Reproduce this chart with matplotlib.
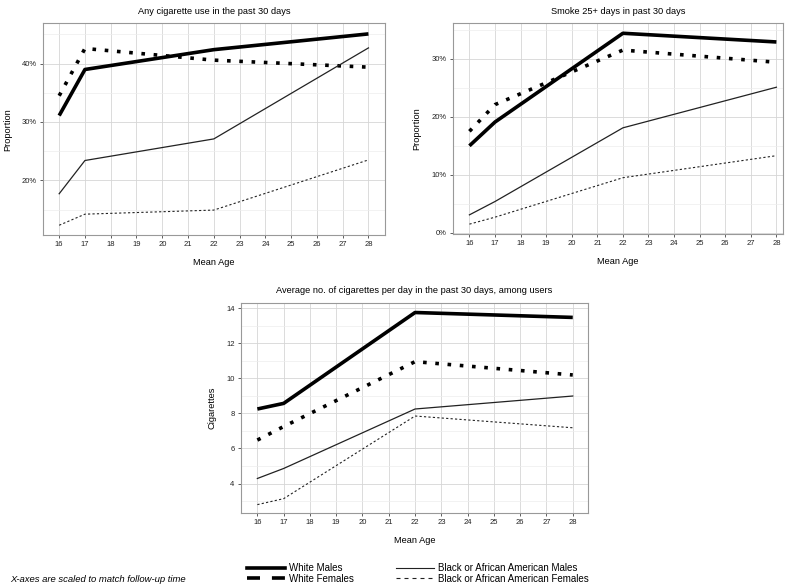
import numpy as np
import matplotlib
matplotlib.use("Agg")
import matplotlib.pyplot as plt
from matplotlib.lines import Line2D
from matplotlib.ticker import MultipleLocator, PercentFormatter

plt.rcParams['font.family'] = ['Liberation Sans', 'DejaVu Sans']

ages = [16, 17, 22, 28]

# Any cigarette use in the past 30 days (%)
any_wm = [31.1, 39.0, 42.4, 45.1]
any_wf = [34.5, 42.6, 40.6, 39.4]
any_bm = [17.7, 23.4, 27.1, 42.7]
any_bf = [12.3, 14.2, 14.9, 23.5]

# Smoke 25+ days in past 30 days (%)
d25_wm = [15.0, 19.1, 34.4, 32.9]
d25_wf = [17.5, 22.1, 31.5, 29.4]
d25_bm = [3.1, 5.4, 18.1, 25.1]
d25_bf = [1.5, 2.7, 9.5, 13.3]

# Average no. of cigarettes per day among users
cpd_wm = [8.25, 8.57, 13.75, 13.47]
cpd_wf = [6.48, 7.25, 10.95, 10.19]
cpd_bm = [4.29, 4.86, 8.25, 8.99]
cpd_bf = [2.80, 3.14, 7.85, 7.18]

labels = ["White Males", "White Females",
          "Black or African American Males", "Black or African American Females"]

styles = [
    dict(color='black', lw=2.6, ls='-', solid_capstyle='butt'),
    dict(color='black', lw=2.6, ls=(0, (1, 2.4)), dash_capstyle='butt'),
    dict(color='#222222', lw=0.9, ls='-'),
    dict(color='#222222', lw=0.8, ls=(0, (2.0, 2.0))),
]

fig = plt.figure(figsize=(8, 5.85), dpi=100)

ax1 = fig.add_axes([0.054, 0.598, 0.4275, 0.362])
ax2 = fig.add_axes([0.566, 0.600, 0.4125, 0.360])
ax3 = fig.add_axes([0.301, 0.123, 0.434, 0.359])

panels = [
    (ax1, "Any cigarette use in the past 30 days", [any_wm, any_wf, any_bm, any_bf],
     "Proportion", (10.6, 46.9), 10, (15.38, 28.65)),
    (ax2, "Smoke 25+ days in past 30 days", [d25_wm, d25_wf, d25_bm, d25_bf],
     "Proportion", (-0.2, 36.1), 10, (15.35, 28.25)),
    (ax3, "Average no. of cigarettes per day in the past 30 days, among users",
     [cpd_wm, cpd_wf, cpd_bm, cpd_bf],
     "Cigarettes", (2.32, 14.29), 2, (15.37, 28.58)),
]

for ax, title, series, ylab, ylim, ystep, xlim in panels:
    for vals, st in zip(series, styles):
        ax.plot(ages, vals, **st, zorder=3)
    ax.set_xlim(*xlim)
    ax.set_ylim(*ylim)
    ax.xaxis.set_major_locator(MultipleLocator(1))
    ax.yaxis.set_major_locator(MultipleLocator(ystep))
    ax.yaxis.set_minor_locator(MultipleLocator(ystep / 2))
    if ylab == "Proportion":
        ax.yaxis.set_major_formatter(PercentFormatter(decimals=0))
    ax.grid(True, which='major', color='#d6d6d6', lw=0.6, zorder=0)
    ax.grid(True, which='minor', axis='y', color='#ededed', lw=0.5, zorder=0)
    ax.tick_params(which='major', length=2.5, width=0.6, color='#444444',
                   labelsize=5.5, pad=2, labelcolor='#222222')
    ax.tick_params(which='minor', length=0)
    for sp in ax.spines.values():
        sp.set_color('#999999')
        sp.set_linewidth(0.8)
    ax.set_title(title, fontsize=6.7, pad=7)
    ax.set_xlabel("Mean Age", fontsize=6.7, labelpad=7)
    ax.set_ylabel(ylab, fontsize=6.7, labelpad=7)

handles = [
    Line2D([], [], color='black', lw=2.6, ls='-'),
    Line2D([], [], color='black', lw=2.6, ls=(0, (3.6, 3.3))),
    Line2D([], [], color='#222222', lw=0.8, ls='-'),
    Line2D([], [], color='#222222', lw=0.8, ls=(0, (3.6, 3.6))),
]
fig.legend(handles, labels, ncol=2, loc='center', bbox_to_anchor=(0.5225, 0.0197),
           frameon=False, fontsize=7, handlelength=3.9, handletextpad=0.4,
           columnspacing=4.3, labelspacing=0.05, borderpad=0)

fig.text(0.0125, 1 - 579 / 585, "X-axes are scaled to match follow-up time",
         fontsize=6.8, style='italic', va='center', ha='left')

fig.savefig("out.png", dpi=100)
